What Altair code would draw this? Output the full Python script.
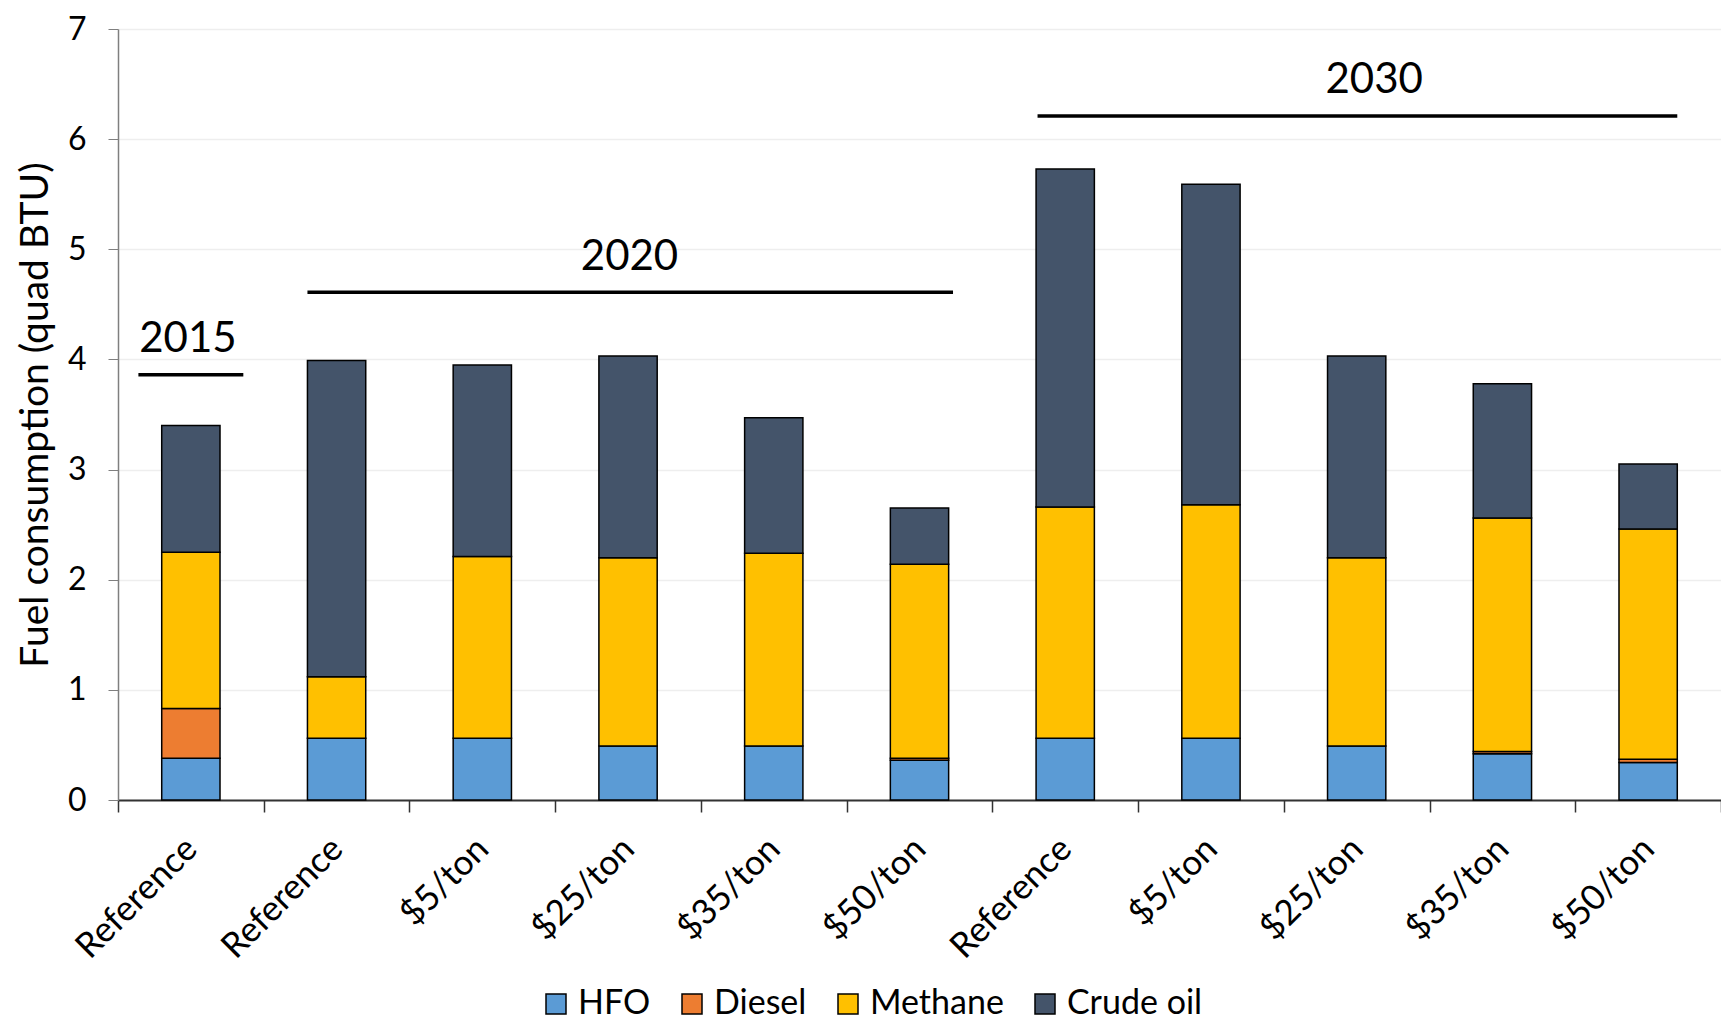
import altair as alt
import pandas as pd

# ---- data ----
scenarios = ["Reference", "Reference", "$5/ton", "$25/ton", "$35/ton", "$50/ton",
             "Reference", "$5/ton", "$25/ton", "$35/ton", "$50/ton"]
hfo = [0.38, 0.56, 0.56, 0.49, 0.49, 0.36, 0.56, 0.56, 0.49, 0.42, 0.34]
diesel = [0.45, 0.0, 0.0, 0.0, 0.0, 0.02, 0.0, 0.0, 0.0, 0.02, 0.03]
methane = [1.42, 0.56, 1.65, 1.71, 1.75, 1.76, 2.10, 2.12, 1.71, 2.12, 2.09]
crude = [1.15, 2.87, 1.74, 1.83, 1.23, 0.51, 3.07, 2.91, 1.83, 1.22, 0.59]

fuels = ["HFO", "Diesel", "Methane", "Crude oil"]
colors = ["#5B9BD5", "#ED7D31", "#FFC000", "#44546A"]

# year group annotations (positions in category units, 0..11; heights in quad BTU)
years = ["2015", "2020", "2030"]
year_line_start = [0.14, 1.30, 6.31]
year_line_end = [0.86, 5.73, 10.70]
year_line_y = [3.86, 4.61, 6.21]
year_text_x = [0.48, 3.51, 8.62]
year_text_y = [4.07, 4.81, 6.42]

# ---- build tables ----
keys = [f"{i}|{s}" for i, s in enumerate(scenarios)]
rows = []
for i, k in enumerate(keys):
    for j, (f, vals) in enumerate(zip(fuels, [hfo, diesel, methane, crude])):
        if vals[i] > 0:
            rows.append({"key": k, "fuel": f, "value": vals[i], "order": j})
df = pd.DataFrame(rows)

ann = pd.DataFrame({
    "year": years, "x1": year_line_start, "x2": year_line_end,
    "ly": year_line_y, "tx": year_text_x, "ty": year_text_y,
})

FONT = "Lato"
yscale = alt.Scale(domain=[0, 7], nice=False, zero=True)

bars = alt.Chart(df).mark_bar(
    width=alt.RelativeBandSize(0.4), stroke="black", strokeWidth=1.5
).encode(
    x=alt.X("key:N", sort=keys, title=None,
            scale=alt.Scale(paddingInner=0, paddingOuter=0),
            axis=alt.Axis(labelExpr="split(datum.label, '|')[1]", labelAngle=315,
                          labelAlign="right", labelBaseline="middle",
                          labelFontSize=35, labelColor="black", labelPadding=31,
                          tickBand="extent", tickSize=12, tickColor="#333333",
                          tickWidth=1.5, domainColor="#333333", domainWidth=2,
                          grid=False)),
    y=alt.Y("value:Q", stack="zero", scale=yscale,
            axis=alt.Axis(values=[0, 1, 2, 3, 4, 5, 6, 7], format="d",
                          title="Fuel consumption (quad BTU)",
                          titleFontSize=39, titleFontWeight="normal", titleColor="black",
                          titlePadding=12, labelFontSize=32, labelColor="black",
                          labelPadding=22, tickSize=10, tickColor="#7F7F7F",
                          domainColor="#7F7F7F", domainWidth=1.5, grid=True,
                          gridColor="#EEEEEE", gridWidth=1.5)),
    color=alt.Color("fuel:N", scale=alt.Scale(domain=fuels, range=colors),
                    legend=alt.Legend(orient="none", direction="horizontal", title=None,
                                      legendX=421, legendY=958, symbolType="square",
                                      symbolSize=400, symbolStrokeColor="black",
                                      symbolStrokeWidth=1.5, labelFontSize=34,
                                      labelColor="black", labelOffset=5,
                                      columnPadding=24)),
    order=alt.Order("order:Q", sort="ascending"),
)

lines = alt.Chart(ann).mark_rule(color="black", strokeWidth=3.5).encode(
    x=alt.X("x1:Q", scale=alt.Scale(domain=[0, 11], nice=False, zero=False), axis=None),
    x2="x2:Q",
    y=alt.Y("ly:Q", scale=yscale),
)
texts = alt.Chart(ann).mark_text(fontSize=42, baseline="alphabetic", align="center",
                                 color="black").encode(
    x=alt.X("tx:Q", scale=alt.Scale(domain=[0, 11], nice=False, zero=False), axis=None),
    y=alt.Y("ty:Q", scale=yscale),
    text="year:N",
)

chart = alt.layer(bars, lines + texts).resolve_scale(x="independent").properties(
    width=1603, height=771,
    autosize=alt.AutoSizeParams(type="none"),
    padding={"left": 110, "top": 21, "right": 0, "bottom": 220},
).configure(font=FONT).configure_view(stroke=None)

chart.save("out.html", embed_options={"renderer": "svg", "actions": False})
